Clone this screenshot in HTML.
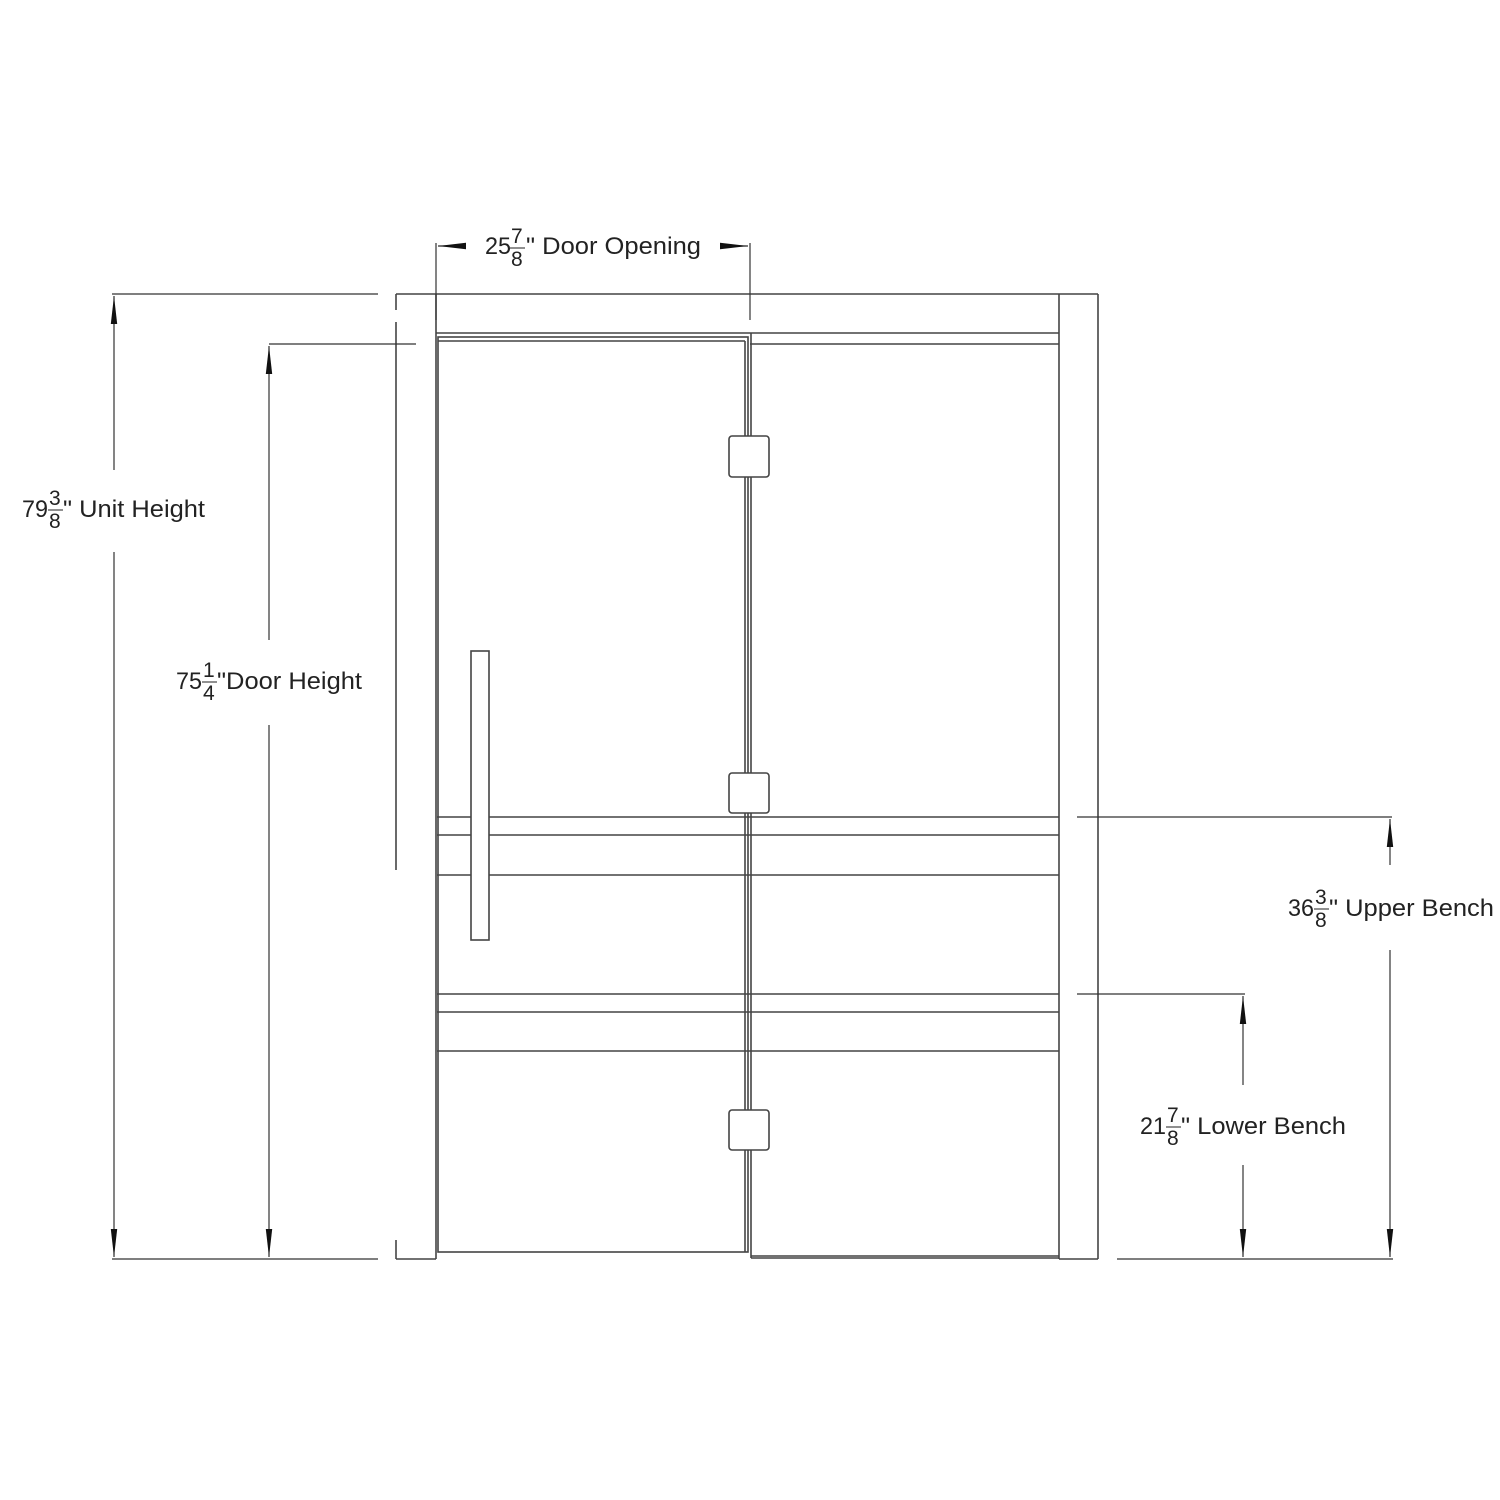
<!DOCTYPE html>
<html><head><meta charset="utf-8"><style>
html,body{margin:0;padding:0;background:#fff;}
svg{display:block;}
text{font-family:"Liberation Sans",Arial,sans-serif;fill:#222;}
</style></head><body>
<svg width="1500" height="1500" viewBox="0 0 1500 1500" xmlns="http://www.w3.org/2000/svg">
<defs>
<marker id="b" viewBox="0 0 28 10" refX="28" refY="5" markerWidth="28" markerHeight="10" markerUnits="userSpaceOnUse" orient="auto-start-reverse">
<path d="M0,1.8 L28,5 L0,8.2 Z" fill="#111"/>
</marker>
</defs>
<g stroke="#444" stroke-width="1.6" fill="none">
<line x1="396" y1="294" x2="1098" y2="294"/>
<line x1="396" y1="294" x2="396" y2="310"/>
<line x1="396" y1="322" x2="396" y2="870"/>
<line x1="396" y1="1240" x2="396" y2="1259"/>
<line x1="396" y1="1259" x2="436" y2="1259"/>
<line x1="436" y1="294" x2="436" y2="1259"/>
<line x1="1059" y1="294" x2="1059" y2="1259"/>
<line x1="1098" y1="294" x2="1098" y2="1259"/>
<line x1="1059" y1="1259" x2="1098" y2="1259"/>
<line x1="436" y1="333" x2="1059" y2="333"/>
<line x1="750" y1="344" x2="1059" y2="344"/>
<rect x="438" y="337" width="310" height="915"/>
<line x1="438" y1="341" x2="745" y2="341"/>
<line x1="745" y1="341" x2="745" y2="1252"/>
<line x1="751" y1="333" x2="751" y2="1258"/>
<line x1="751" y1="1258" x2="1059" y2="1258"/>
<line x1="751" y1="1256" x2="1059" y2="1256"/>
<line x1="437" y1="817" x2="1059" y2="817"/>
<line x1="437" y1="835" x2="1059" y2="835"/>
<line x1="437" y1="875" x2="1059" y2="875"/>
<line x1="437" y1="994" x2="1059" y2="994"/>
<line x1="437" y1="1012" x2="1059" y2="1012"/>
<line x1="437" y1="1051" x2="1059" y2="1051"/>
<rect x="471" y="651" width="18" height="289" fill="#fff"/>
<rect x="729" y="436" width="40" height="41" rx="3" fill="#fff"/>
<rect x="729" y="773" width="40" height="40" rx="3" fill="#fff"/>
<rect x="729" y="1110" width="40" height="40" rx="3" fill="#fff"/>
</g>
<g stroke="#333" stroke-width="1.2" fill="none">
<line x1="112" y1="294" x2="378" y2="294"/>
<line x1="112" y1="1259" x2="378" y2="1259"/>
<line x1="114" y1="470" x2="114" y2="296" marker-end="url(#b)"/>
<line x1="114" y1="552" x2="114" y2="1257" marker-end="url(#b)"/>
<line x1="269" y1="344" x2="416" y2="344"/>
<line x1="269" y1="640" x2="269" y2="346" marker-end="url(#b)"/>
<line x1="269" y1="725" x2="269" y2="1257" marker-end="url(#b)"/>
<line x1="436" y1="243" x2="436" y2="320"/>
<line x1="750" y1="243" x2="750" y2="320"/>
<line x1="466" y1="246" x2="438" y2="246" marker-end="url(#b)"/>
<line x1="720" y1="246" x2="748" y2="246" marker-end="url(#b)"/>
<line x1="1077" y1="817" x2="1392" y2="817"/>
<line x1="1117" y1="1259" x2="1393" y2="1259"/>
<line x1="1390" y1="865" x2="1390" y2="819" marker-end="url(#b)"/>
<line x1="1390" y1="950" x2="1390" y2="1257" marker-end="url(#b)"/>
<line x1="1077" y1="994" x2="1245" y2="994"/>
<line x1="1243" y1="1085" x2="1243" y2="996" marker-end="url(#b)"/>
<line x1="1243" y1="1165" x2="1243" y2="1257" marker-end="url(#b)"/>
</g>
<g font-size="24">
<text x="485" y="254" textLength="26" lengthAdjust="spacingAndGlyphs">25</text>
<text x="511" y="243" font-size="21">7</text>
<line x1="510" y1="248" x2="525" y2="248" stroke="#222" stroke-width="1"/>
<text x="511" y="266" font-size="21">8</text>
<text x="526" y="254" textLength="175" lengthAdjust="spacingAndGlyphs">" Door Opening</text>

<text x="22" y="517" textLength="26" lengthAdjust="spacingAndGlyphs">79</text>
<text x="49" y="505" font-size="21">3</text>
<line x1="48" y1="510" x2="63" y2="510" stroke="#222" stroke-width="1"/>
<text x="49" y="528" font-size="21">8</text>
<text x="63" y="517" textLength="142" lengthAdjust="spacingAndGlyphs">" Unit Height</text>

<text x="176" y="689" textLength="26" lengthAdjust="spacingAndGlyphs">75</text>
<text x="203" y="677" font-size="21">1</text>
<line x1="202" y1="682" x2="217" y2="682" stroke="#222" stroke-width="1"/>
<text x="203" y="700" font-size="21">4</text>
<text x="217" y="689" textLength="145" lengthAdjust="spacingAndGlyphs">"Door Height</text>

<text x="1288" y="916" textLength="26" lengthAdjust="spacingAndGlyphs">36</text>
<text x="1315" y="904" font-size="21">3</text>
<line x1="1314" y1="909" x2="1329" y2="909" stroke="#222" stroke-width="1"/>
<text x="1315" y="927" font-size="21">8</text>
<text x="1329" y="916" textLength="165" lengthAdjust="spacingAndGlyphs">" Upper Bench</text>

<text x="1140" y="1134" textLength="26" lengthAdjust="spacingAndGlyphs">21</text>
<text x="1167" y="1122" font-size="21">7</text>
<line x1="1166" y1="1127" x2="1181" y2="1127" stroke="#222" stroke-width="1"/>
<text x="1167" y="1145" font-size="21">8</text>
<text x="1181" y="1134" textLength="165" lengthAdjust="spacingAndGlyphs">" Lower Bench</text>
</g>
</svg>
</body></html>
